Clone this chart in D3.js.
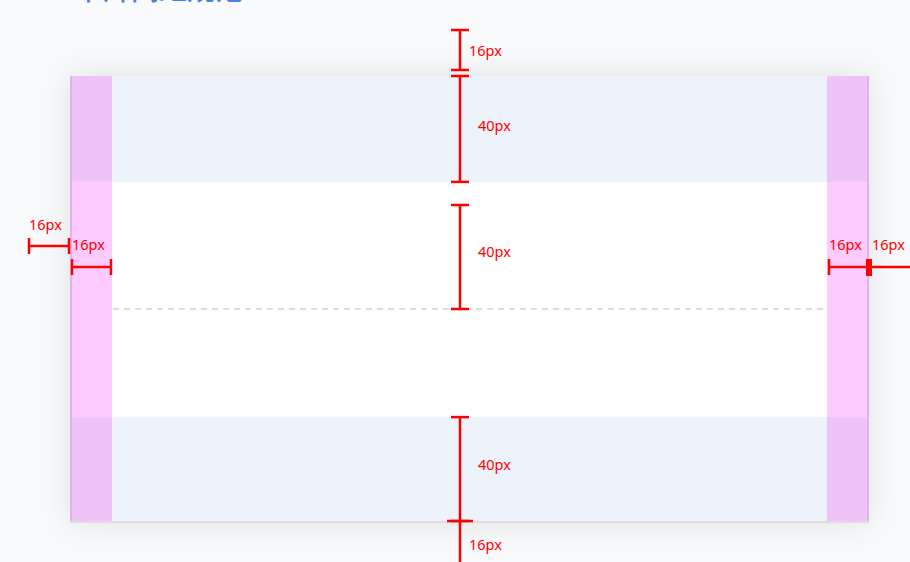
<!DOCTYPE html>
<html>
<head>
<meta charset="utf-8">
<script src="https://cdn.jsdelivr.net/npm/d3@7"></script>
<style>
  html, body { margin: 0; padding: 0; background: #f9fafc; overflow: hidden; }
  svg { display: block; font-family: "Noto Sans", "Noto Sans CJK SC", sans-serif; }
</style>
</head>
<body>
<svg id="chart" width="910" height="562"></svg>
<script>
// spacing values shown on the diagram (px)
var titleText = "卡片间距规范";
var bandNames = ["header", "body", "footer"];
var bandSizes = [40, 88, 40];          // header / body / footer, in layout units
var verticalLabels = ["16px", "40px", "40px", "40px", "16px"];
var horizontalLabels = ["16px", "16px", "16px", "16px"];

var svg = d3.select("#chart"),
    width = +svg.attr("width"),
    height = +svg.attr("height"),
    defs = svg.append("defs");

var red = "#ff0000";

// card frame
var card = { x0: 70, x1: 869, y0: 76, y1: 523 };

// vertical scale: layout units -> screen px inside the card
var total = d3.sum(bandSizes);
var y = d3.scaleLinear().domain([0, total]).range([card.y0 - 1, card.y1 + 1]);
var pad = 42; // drawn width of the 16px side padding

var bandTops = d3.cumsum([0].concat(bandSizes)).slice(0, 3);
var bandY = function(i) { return Math.max(card.y0, Math.min(card.y1, y(bandTops[i]))); };
var bandH = function(i) {
  var b = Math.min(card.y1, y(bandTops[i] + bandSizes[i]));
  return b - bandY(i);
};

// shadow
var f = defs.append("filter").attr("id", "shadow")
  .attr("x", "-10%").attr("y", "-20%").attr("width", "120%").attr("height", "140%");
f.append("feDropShadow").attr("dx", 0).attr("dy", 0).attr("stdDeviation", 16)
  .attr("flood-color", "#000").attr("flood-opacity", 0.1);

// title (cut off at the top)
svg.append("text")
  .attr("x", 75).attr("y", -0.5)
  .attr("fill", "#4a80e6")
  .attr("font-size", 28)
  .attr("font-weight", 500)
  .text(titleText);

var g = svg.append("g");

g.append("rect")
  .attr("x", card.x0).attr("y", card.y0)
  .attr("width", card.x1 - card.x0).attr("height", card.y1 - card.y0)
  .attr("fill", "#fff")
  .attr("filter", "url(#shadow)");

// bands
g.selectAll(".band")
  .data(bandNames)
  .enter().append("rect")
  .attr("class", "band")
  .attr("x", card.x0).attr("width", card.x1 - card.x0)
  .attr("y", function(d, i) { return bandY(i); })
  .attr("height", function(d, i) { return bandH(i); })
  .attr("fill", function(d) { return d == "body" ? "#ffffff" : "#eef2fa"; });

// side padding strips
[card.x0, card.x1 - pad].forEach(function(sx) {
  g.selectAll(null)
    .data(bandNames)
    .enter().append("rect")
    .attr("x", sx).attr("width", pad)
    .attr("y", function(d, i) { return bandY(i); })
    .attr("height", function(d, i) { return bandH(i); })
    .attr("fill", function(d) { return d == "body" ? "#fdcbfe" : "#efc3f8"; });
});

// card edges
g.append("rect").attr("x", card.x0).attr("y", card.y0).attr("width", 2)
  .attr("height", card.y1 - card.y0).attr("fill", "#e2b2ea");
g.append("rect").attr("x", card.x1 - 2).attr("y", card.y0).attr("width", 2)
  .attr("height", card.y1 - card.y0).attr("fill", "#e2b2ea");
g.append("rect").attr("x", card.x0).attr("y", card.y1 - 2).attr("width", card.x1 - card.x0)
  .attr("height", 2).attr("fill", "#dedede");

// dashed centre line
g.append("line")
  .attr("x1", card.x0 + pad + 1).attr("x2", card.x1 - pad - 4)
  .attr("y1", 309).attr("y2", 309)
  .attr("stroke", "#dcdcdc").attr("stroke-width", 2)
  .attr("stroke-dasharray", "6,5");

// measurement helpers
var vMeasure = function(cx, a, b, label, lx, ly, capW) {
  var m = svg.append("g").attr("stroke", red).attr("stroke-width", 2.5);
  m.append("line").attr("x1", cx).attr("x2", cx).attr("y1", a).attr("y2", b);
  m.append("line").attr("x1", cx - capW / 2).attr("x2", cx + capW / 2).attr("y1", a).attr("y2", a);
  m.append("line").attr("x1", cx - capW / 2).attr("x2", cx + capW / 2).attr("y1", b).attr("y2", b);
  svg.append("text").attr("x", lx).attr("y", ly).attr("fill", red)
    .attr("font-size", 14.5).attr("dominant-baseline", "middle").text(label);
};
var hMeasure = function(cy, a, b, label, lx, ly) {
  var m = svg.append("g").attr("stroke", red).attr("stroke-width", 2.5);
  m.append("line").attr("x1", a).attr("x2", b).attr("y1", cy).attr("y2", cy);
  m.append("line").attr("x1", a).attr("x2", a).attr("y1", cy - 8).attr("y2", cy + 8);
  m.append("line").attr("x1", b).attr("x2", b).attr("y1", cy - 8).attr("y2", cy + 8);
  svg.append("text").attr("x", lx).attr("y", ly).attr("fill", red)
    .attr("font-size", 14.5).attr("dominant-baseline", "middle").text(label);
};

var mx = 460;
vMeasure(mx, 30, 70, verticalLabels[0], 469, 52, 18);
vMeasure(mx, 76, bandY(1), verticalLabels[1], 478, 127, 18);
vMeasure(mx, 205, 309, verticalLabels[2], 478, 253, 18);
vMeasure(mx, bandY(2), 521, verticalLabels[3], 478, 466, 18);
vMeasure(mx, 521, 575, verticalLabels[4], 469, 546, 26);

hMeasure(246, 29, 69, horizontalLabels[0], 29, 226);
hMeasure(267, card.x0 + 2, card.x0 + pad - 1, horizontalLabels[1], 72, 246);
hMeasure(267, card.x1 - pad + 2, card.x1, horizontalLabels[2], 829, 246);
hMeasure(267, card.x1, 920, horizontalLabels[3], 872, 246);
g.append("rect").attr("x", 866).attr("y", 259).attr("width", 6).attr("height", 17).attr("fill", red);
</script>
</body>
</html>
